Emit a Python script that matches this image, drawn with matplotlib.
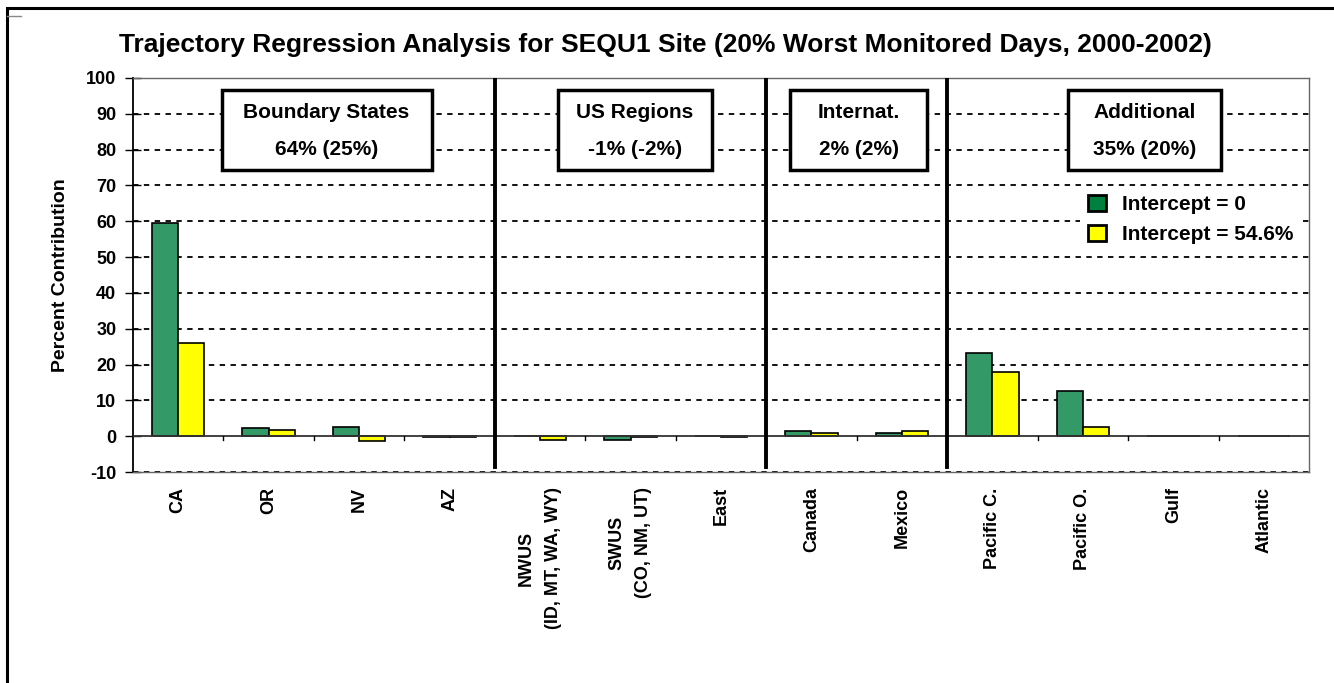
import matplotlib
matplotlib.use("Agg")
import matplotlib.pyplot as plt
from matplotlib.patches import Patch, Rectangle
from matplotlib.lines import Line2D
import numpy as np

plt.rcParams['font.family'] = ['Liberation Sans', 'DejaVu Sans']
plt.rcParams['font.weight'] = 'bold'
plt.rcParams['axes.unicode_minus'] = False

categories = ['CA', 'OR', 'NV', 'AZ', 'NWUS\n(ID, MT, WA, WY)', 'SWUS\n(CO, NM, UT)', 'East',
              'Canada', 'Mexico', 'Pacific C.', 'Pacific O.', 'Gulf', 'Atlantic']
intercept_0 = [59.6, 2.2, 2.7, -0.3, 0.0, -1.0, 0.0, 1.4, 0.9, 23.3, 12.5, 0.0, 0.0]
intercept_546 = [26.0, 1.8, -1.4, -0.3, -1.0, -0.3, -0.3, 0.9, 1.4, 18.0, 2.6, 0.0, 0.0]

group_names = ['Boundary States\n64% (25%)', 'US Regions\n-1% (-2%)', 'Internat.\n2% (2%)', 'Additional\n35% (20%)']
group_label_x = [1.64, 5.05, 7.52, 10.68]
group_box_w = [2.32, 1.70, 1.52, 1.70]   # box widths in category units
group_bounds = [3.5, 6.5, 8.5]

fig = plt.figure(figsize=(13.34, 6.83), dpi=100)
ax = fig.add_axes([0.0997, 0.3089, 0.8816, 0.5769])

x = np.arange(len(categories))
w = 0.29
ax.bar(x - w / 2, intercept_0, w, color='#339966', edgecolor='black', linewidth=1.2, zorder=3)
ax.bar(x + w / 2, intercept_546, w, color='#ffff00', edgecolor='black', linewidth=1.2, zorder=3)

ax.set_xlim(-0.5, len(categories) - 0.5)
ax.set_ylim(-10, 100)
ax.set_yticks(range(-10, 101, 10))
for yv in range(-10, 101, 10):
    if yv != 0:
        ax.axhline(yv, color='black', linestyle=(0, (3, 3)), linewidth=1.3, zorder=1)
ax.axhline(0, color='#333333', linewidth=1.3, zorder=4)
for b in np.arange(0.5, len(categories) - 1, 1.0):
    ax.plot([b, b], [0, -1.0], color='black', linewidth=1, zorder=4)
for b in group_bounds:
    ax.plot([b, b], [100, -8.5], color='black', linewidth=2.8, zorder=5)

for s in ax.spines.values():
    s.set_color('#666666')
    s.set_linewidth(1)
ax.spines['left'].set_color('black')
ax.spines['left'].set_linewidth(1.3)

ax.set_xticks(x)
ax.set_xticklabels(categories, rotation=90, fontsize=13, fontweight='bold',
                   va='top', ha='center', multialignment='center', linespacing=1.75)
ax.tick_params(axis='x', length=0, pad=11)
ax.tick_params(axis='y', labelsize=13, length=12, width=1, direction='inout', pad=6)
for lbl in ax.get_yticklabels():
    lbl.set_fontweight('bold')

ax.set_ylabel('Percent Contribution', fontsize=14, fontweight='bold', labelpad=12)
fig.text(0.499, 1 - 45 / 683,
         'Trajectory Regression Analysis for SEQU1 Site (20% Worst Monitored Days, 2000-2002)',
         fontsize=19, fontweight='bold', ha='center', va='center')

box_h = 22.3
for name, gx, bw in zip(group_names, group_label_x, group_box_w):
    ax.add_patch(Rectangle((gx - bw / 2, 85.5 - box_h / 2), bw, box_h, facecolor='white',
                           edgecolor='black', linewidth=2.5, zorder=6))
    ax.text(gx, 85.3, name, ha='center', va='center', fontsize=15, fontweight='bold',
            linespacing=2.2, zorder=7)

handles = [Patch(facecolor='#00803f', edgecolor='black', linewidth=2, label='Intercept = 0'),
           Patch(facecolor='#ffff00', edgecolor='black', linewidth=2, label='Intercept = 54.6%')]
leg = ax.legend(handles=handles, loc='upper left', bbox_to_anchor=(0.805, 0.725), frameon=True,
                fontsize=15, handlelength=0.85, handleheight=0.85, handletextpad=0.8,
                labelspacing=0.5, borderpad=0.4, borderaxespad=0)
leg.get_frame().set_facecolor('white')
leg.get_frame().set_edgecolor('none')
leg.get_frame().set_alpha(1)
leg.set_zorder(6)
for t in leg.get_texts():
    t.set_fontweight('bold')

fig.add_artist(Rectangle((7 / 1334, -0.1), 1.2, 1 - 8 / 683 + 0.1, transform=fig.transFigure,
                         fill=False, edgecolor='black', linewidth=2.2))
fig.add_artist(Line2D([7 / 1334, 21 / 1334], [1 - 16 / 683, 1 - 16 / 683], transform=fig.transFigure,
                      color='#888888', linewidth=1))

fig.savefig('out.png', dpi=100)
